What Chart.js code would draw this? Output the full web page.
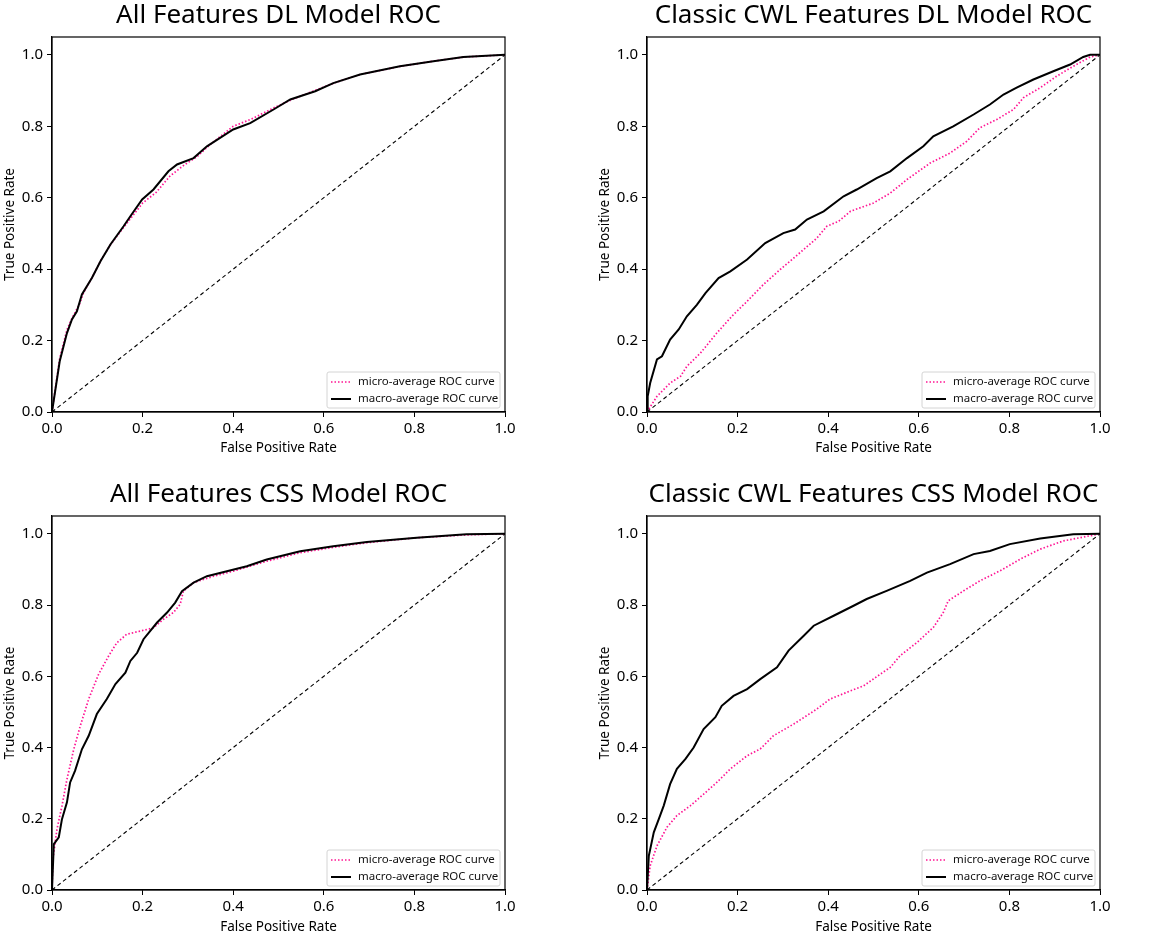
<!DOCTYPE html>
<html>
<head>
<meta charset="utf-8">
<script src="https://cdn.jsdelivr.net/npm/chart.js@4.4.1/dist/chart.umd.min.js"></script>
<style>
  html, body { margin: 0; padding: 0; background: #fff; }
  body { width: 1170px; height: 936px; position: relative; overflow: hidden; }
  .panel { position: absolute; }
</style>
</head>
<body>
<div class="panel" id="p0" style="left:0;top:0;width:585px;height:466px"><canvas id="c0"></canvas></div>
<div class="panel" id="p1" style="left:590px;top:0;width:580px;height:466px"><canvas id="c1"></canvas></div>
<div class="panel" id="p2" style="left:0;top:466px;width:585px;height:470px"><canvas id="c2"></canvas></div>
<div class="panel" id="p3" style="left:590px;top:466px;width:580px;height:470px"><canvas id="c3"></canvas></div>
<script>
// tick values shared by every panel
const xTicks = [0, 0.2, 0.4, 0.6, 0.8, 1.0];
const yTicks = [0, 0.2, 0.4, 0.6, 0.8, 1.0];

const panelTitles = [
  'All Features DL Model ROC',
  'Classic CWL Features DL Model ROC',
  'All Features CSS Model ROC',
  'Classic CWL Features CSS Model ROC'
];
const seriesNames = ['micro-average ROC curve', 'macro-average ROC curve'];

// All Features DL
const allDlMacroFpr = [0, 0.017, 0.033, 0.044, 0.055, 0.066, 0.088, 0.107, 0.129, 0.158, 0.173, 0.199, 0.224, 0.257, 0.276, 0.3125, 0.342, 0.4, 0.4375, 0.489, 0.526, 0.581, 0.621, 0.68, 0.768, 0.842, 0.908, 1];
const allDlMacroTpr = [0, 0.142, 0.221, 0.259, 0.282, 0.329, 0.375, 0.422, 0.469, 0.52, 0.548, 0.595, 0.623, 0.674, 0.693, 0.711, 0.744, 0.791, 0.809, 0.847, 0.875, 0.898, 0.921, 0.945, 0.968, 0.982, 0.994, 1];
const allDlMicroFpr = [0, 0.017, 0.033, 0.045, 0.06, 0.07, 0.09, 0.11, 0.13, 0.16, 0.2, 0.23, 0.26, 0.29, 0.32, 0.35, 0.4, 0.44, 0.49, 0.53, 0.58, 0.62, 0.68, 0.77, 0.84, 0.91, 1];
const allDlMicroTpr = [0, 0.15, 0.23, 0.265, 0.3, 0.335, 0.38, 0.43, 0.47, 0.52, 0.585, 0.615, 0.66, 0.69, 0.715, 0.75, 0.8, 0.82, 0.852, 0.875, 0.9, 0.92, 0.945, 0.968, 0.982, 0.994, 1];

// Classic CWL DL
const cwlDlMacroFpr = [0, 0.0015, 0.007, 0.022, 0.033, 0.051, 0.07, 0.088, 0.11, 0.129, 0.158, 0.184, 0.221, 0.261, 0.301, 0.327, 0.353, 0.39, 0.434, 0.463, 0.507, 0.537, 0.574, 0.61, 0.632, 0.676, 0.721, 0.757, 0.787, 0.816, 0.853, 0.897, 0.934, 0.963, 0.978, 1];
const cwlDlMacroTpr = [0, 0.044, 0.081, 0.147, 0.156, 0.203, 0.231, 0.268, 0.3, 0.333, 0.375, 0.394, 0.427, 0.473, 0.501, 0.511, 0.539, 0.562, 0.604, 0.623, 0.655, 0.674, 0.711, 0.744, 0.772, 0.8, 0.833, 0.861, 0.889, 0.908, 0.931, 0.954, 0.973, 0.994, 1, 1];
const cwlDlMicroFpr = [0, 0.022, 0.051, 0.074, 0.088, 0.118, 0.154, 0.191, 0.217, 0.257, 0.294, 0.346, 0.375, 0.397, 0.423, 0.449, 0.5, 0.537, 0.574, 0.625, 0.669, 0.706, 0.735, 0.772, 0.809, 0.831, 0.868, 0.904, 0.941, 0.978, 1];
const cwlDlMicroTpr = [0, 0.044, 0.081, 0.1, 0.128, 0.165, 0.221, 0.273, 0.305, 0.357, 0.399, 0.455, 0.487, 0.52, 0.534, 0.562, 0.585, 0.613, 0.651, 0.697, 0.725, 0.758, 0.796, 0.819, 0.847, 0.88, 0.908, 0.94, 0.968, 0.994, 1];

// All Features CSS
const allCssMacroFpr = [0, 0.004, 0.015, 0.022, 0.033, 0.04, 0.051, 0.066, 0.081, 0.099, 0.121, 0.14, 0.162, 0.173, 0.188, 0.202, 0.232, 0.254, 0.272, 0.287, 0.3125, 0.342, 0.386, 0.43, 0.474, 0.548, 0.621, 0.695, 0.805, 0.915, 1];
const allCssMacroTpr = [0, 0.129, 0.148, 0.199, 0.246, 0.302, 0.335, 0.395, 0.433, 0.494, 0.536, 0.578, 0.61, 0.643, 0.666, 0.704, 0.751, 0.779, 0.807, 0.839, 0.863, 0.881, 0.895, 0.909, 0.928, 0.951, 0.965, 0.977, 0.989, 0.999, 1];
const allCssMicroFpr = [0, 0.002, 0.011, 0.022, 0.033, 0.048, 0.0625, 0.081, 0.103, 0.125, 0.143, 0.165, 0.195, 0.224, 0.246, 0.268, 0.283, 0.29, 0.3125, 0.357, 0.4, 0.474, 0.548, 0.621, 0.695, 0.805, 0.915, 1];
const allCssMicroTpr = [0, 0.087, 0.171, 0.236, 0.311, 0.395, 0.461, 0.536, 0.606, 0.657, 0.694, 0.718, 0.727, 0.736, 0.76, 0.779, 0.802, 0.839, 0.863, 0.881, 0.895, 0.923, 0.947, 0.962, 0.975, 0.989, 0.997, 1];

// Classic CWL CSS
const cwlCssMacroFpr = [0, 0.004, 0.015, 0.026, 0.037, 0.051, 0.066, 0.085, 0.103, 0.125, 0.151, 0.165, 0.191, 0.221, 0.25, 0.287, 0.3125, 0.346, 0.368, 0.412, 0.456, 0.485, 0.529, 0.581, 0.618, 0.669, 0.721, 0.757, 0.801, 0.868, 0.941, 1];
const cwlCssMacroTpr = [0, 0.096, 0.162, 0.199, 0.237, 0.297, 0.34, 0.368, 0.4, 0.452, 0.485, 0.517, 0.545, 0.564, 0.592, 0.625, 0.672, 0.714, 0.742, 0.77, 0.798, 0.817, 0.84, 0.868, 0.891, 0.915, 0.943, 0.952, 0.971, 0.987, 0.999, 1];
const cwlCssMicroFpr = [0, 0.007, 0.022, 0.044, 0.066, 0.096, 0.125, 0.154, 0.184, 0.221, 0.25, 0.279, 0.324, 0.375, 0.404, 0.449, 0.478, 0.515, 0.537, 0.559, 0.596, 0.632, 0.654, 0.665, 0.699, 0.735, 0.779, 0.824, 0.868, 0.919, 1];
const cwlCssMicroTpr = [0, 0.068, 0.124, 0.176, 0.209, 0.237, 0.269, 0.302, 0.34, 0.377, 0.396, 0.433, 0.466, 0.508, 0.536, 0.559, 0.573, 0.606, 0.625, 0.658, 0.695, 0.737, 0.779, 0.812, 0.84, 0.868, 0.896, 0.929, 0.957, 0.98, 1];

const chanceFpr = [0, 1];
const chanceTpr = [0, 1];

const panelData = [
  [allDlMicroFpr, allDlMicroTpr, allDlMacroFpr, allDlMacroTpr],
  [cwlDlMicroFpr, cwlDlMicroTpr, cwlDlMacroFpr, cwlDlMacroTpr],
  [allCssMicroFpr, allCssMicroTpr, allCssMacroFpr, allCssMacroTpr],
  [cwlCssMicroFpr, cwlCssMicroTpr, cwlCssMacroFpr, cwlCssMacroTpr]
];

// layout per panel (pixels)
const panelLayout = [
  { yAxisW: 52, xAxisH: 54, padRight: 80, titleTop: 3, titleBottom: 8, yTitlePad: 2, xTitlePad: 10 },
  { yAxisW: 57, xAxisH: 54, padRight: 70, titleTop: 3, titleBottom: 8, yTitlePad: 7, xTitlePad: 10 },
  { yAxisW: 52, xAxisH: 46, padRight: 80, titleTop: 16, titleBottom: 8, yTitlePad: 2, xTitlePad: 1 },
  { yAxisW: 57, xAxisH: 46, padRight: 70, titleTop: 16, titleBottom: 8, yTitlePad: 7, xTitlePad: 1 }
];

const FONT = "'Noto Sans', 'Open Sans', sans-serif";
const PINK = '#ff1493';

function toPoints(xs, ys) {
  return xs.map((x, i) => ({ x: x, y: ys[i] }));
}

// box around the whole plot area
const framePlugin = {
  id: 'frame',
  afterDraw(chart) {
    const a = chart.chartArea, ctx = chart.ctx;
    ctx.save();
    ctx.strokeStyle = '#000';
    ctx.lineWidth = 1.2;
    ctx.strokeRect(a.left, a.top, a.right - a.left, a.bottom - a.top);
    ctx.restore();
  }
};

// matplotlib-like legend in the lower right corner
const innerLegend = {
  id: 'innerLegend',
  afterDraw(chart) {
    const a = chart.chartArea, ctx = chart.ctx;
    const w = 173, h = 36;
    const x = a.right - 5 - w, y = a.bottom - 4 - h;
    ctx.save();
    ctx.fillStyle = 'rgba(255,255,255,0.85)';
    ctx.strokeStyle = '#d4d4d4';
    ctx.lineWidth = 1;
    ctx.beginPath();
    ctx.roundRect(x, y, w, h, 2);
    ctx.fill();
    ctx.stroke();
    const items = [chart.data.datasets[1], chart.data.datasets[0]];
    items.forEach((ds, i) => {
      const cy = y + 10 + i * 17;
      ctx.strokeStyle = ds.borderColor;
      ctx.lineWidth = ds.borderWidth;
      ctx.setLineDash(ds.borderDash || []);
      ctx.beginPath();
      ctx.moveTo(x + 4, cy);
      ctx.lineTo(x + 24, cy);
      ctx.stroke();
      ctx.setLineDash([]);
      ctx.fillStyle = '#111';
      ctx.font = '11.5px ' + FONT;
      ctx.textBaseline = 'middle';
      ctx.fillText(ds.label, x + 31, cy);
    });
    ctx.restore();
  }
};

function makeChart(idx) {
  const d = panelData[idx];
  const L = panelLayout[idx];
  const ctx = document.getElementById('c' + idx);
  return new Chart(ctx, {
    type: 'line',
    data: {
      datasets: [
        {
          label: seriesNames[1],
          data: toPoints(d[2], d[3]),
          borderColor: '#000',
          borderWidth: 2,
          pointRadius: 0,
          tension: 0
        },
        {
          label: seriesNames[0],
          data: toPoints(d[0], d[1]),
          borderColor: PINK,
          borderWidth: 1.7,
          borderDash: [1.5, 2],
          pointRadius: 0,
          tension: 0
        },
        {
          label: 'chance',
          data: toPoints(chanceFpr, chanceTpr),
          borderColor: '#000',
          borderWidth: 1.1,
          borderDash: [4, 3],
          pointRadius: 0,
          tension: 0
        }
      ]
    },
    options: {
      responsive: true,
      maintainAspectRatio: false,
      animation: false,
      layout: { padding: { left: 0, right: L.padRight, top: 0, bottom: 0 } },
      plugins: {
        legend: { display: false },
        tooltip: { enabled: false },
        title: {
          display: true,
          fullSize: false,
          text: panelTitles[idx],
          color: '#000',
          font: { family: FONT, size: 26, weight: 'normal', lineHeight: 1 },
          padding: { top: L.titleTop, bottom: L.titleBottom }
        }
      },
      scales: {
        x: {
          type: 'linear',
          min: 0,
          max: 1,
          afterBuildTicks: s => { s.ticks = xTicks.map(v => ({ value: v })); },
          afterFit: s => { s.height = L.xAxisH; },
          grid: { display: true, drawOnChartArea: false, tickLength: 5, tickColor: '#000' },
          border: { display: true, color: '#000', width: 1.2 },
          ticks: {
            color: '#000',
            padding: 3,
            maxRotation: 0,
            font: { family: FONT, size: 15 },
            callback: v => v.toFixed(1)
          },
          title: {
            display: true,
            text: 'False Positive Rate',
            color: '#000',
            font: { family: FONT, size: 13.5 },
            padding: { top: 0, bottom: L.xTitlePad }
          }
        },
        y: {
          type: 'linear',
          min: 0,
          max: 1.05,
          afterBuildTicks: s => { s.ticks = yTicks.map(v => ({ value: v })); },
          afterFit: s => { s.width = L.yAxisW; },
          grid: { display: true, drawOnChartArea: false, tickLength: 5, tickColor: '#000' },
          border: { display: true, color: '#000', width: 1.2 },
          ticks: {
            color: '#000',
            padding: 4,
            font: { family: FONT, size: 15 },
            callback: v => v.toFixed(1)
          },
          title: {
            display: true,
            text: 'True Positive Rate',
            color: '#000',
            font: { family: FONT, size: 13.5 },
            padding: { top: L.yTitlePad, bottom: 0 }
          }
        }
      }
    },
    plugins: [framePlugin, innerLegend]
  });
}

[0, 1, 2, 3].forEach(makeChart);
</script>
</body>
</html>
